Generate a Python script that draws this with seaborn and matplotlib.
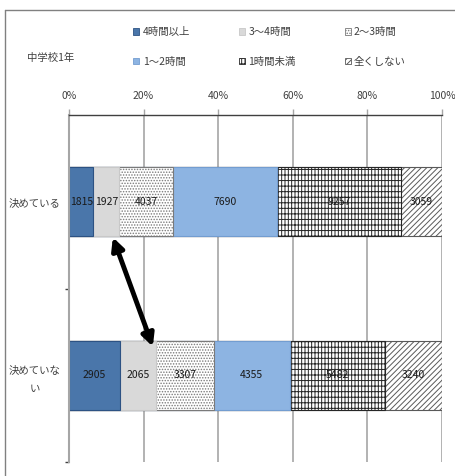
import matplotlib
matplotlib.use('Agg')
import numpy as np
import pandas as pd
import seaborn as sns
import matplotlib.pyplot as plt
import matplotlib.patches as mpatches
from matplotlib.lines import Line2D
from matplotlib.ticker import FuncFormatter

# data
groups = ["決めている", "決めていない"]
group_ticklabels = ["決めている", "決めていな\nい"]
series_names = ["4時間以上", "3～4時間", "2～3時間", "1～2時間", "1時間未満", "全くしない"]
h4_more = [1815, 2905]
h3_4 = [1927, 2065]
h2_3 = [4037, 3307]
h1_2 = [7690, 4355]
h_less1 = [9257, 5482]
h_none = [3059, 3240]
title = "中学校1年"

counts = np.array([h4_more, h3_4, h2_3, h1_2, h_less1, h_none], dtype=float)
df = pd.DataFrame(counts.T, columns=series_names)
df["group"] = groups
pct = df[series_names].div(df[series_names].sum(axis=1), axis=0) * 100
cum = pct.cumsum(axis=1)
for c in series_names:
    df["cum_" + c] = cum[c]

# segment styles: facecolor, edgecolor, hatch
styles = {
    "4時間以上": ("#4a76aa", "#2d5283", None),
    "3～4時間": ("#d9d9d9", "#c8c8c8", None),
    "2～3時間": ("#ffffff", "#7a7a7a", "......"),
    "1～2時間": ("#8db4e2", "#739dd0", None),
    "1時間未満": ("#ffffff", "#262626", "---|||||"),
    "全くしない": ("#ffffff", "#595959", "//////"),
}

sns.set_style("white")
plt.rcParams['font.family'] = ['Noto Sans CJK JP', 'DejaVu Sans']
plt.rcParams['hatch.linewidth'] = 0.7

fig = plt.figure(figsize=(4.55, 4.76), dpi=100)
ax = fig.add_axes([69 / 455, 1 - 462 / 476, 373 / 455, 347 / 476])

# stacked bars: draw cumulative totals from the right-most segment back
for name in reversed(series_names):
    fc, ec, hatch = styles[name]
    sns.barplot(data=df, x="cum_" + name, y="group", order=groups, orient="h",
                color=fc, saturation=1, errorbar=None, width=0.4,
                edgecolor=ec, linewidth=0.8, hatch=hatch, ax=ax)

# value labels in the middle of each segment
for i in range(len(groups)):
    left = 0
    for name in series_names:
        right = cum.loc[i, name]
        ax.text((left + right) / 2, i, f"{int(df.loc[i, name])}", ha="center", va="center",
                fontsize=7.5, color="#1a1a1a")
        left = right

# arrow between the two rows
x_top = cum.loc[0, "3～4時間"] - 1.7
x_bot = cum.loc[1, "3～4時間"] - 0.8
ax.annotate("", xy=(x_top, 0.205), xytext=(x_bot, 0.835),
            arrowprops=dict(arrowstyle="<|-|>", color="black", lw=3.5,
                            mutation_scale=18, shrinkA=0, shrinkB=0))

ax.set_xlim(0, 100)
ax.set_ylim(1.5, -0.5)
ax.set_xlabel("")
ax.set_ylabel("")
ax.xaxis.tick_top()
ax.set_xticks(np.arange(0, 101, 20))
ax.xaxis.set_major_formatter(FuncFormatter(lambda v, p: f"{int(v)}%"))
ax.tick_params(axis="x", length=4, width=1, color="#a6a6a6", labelsize=7.5,
               labelcolor="#404040", pad=6)
ax.set_yticks(range(len(groups)))
ax.set_yticklabels(group_ticklabels, linespacing=2.0, multialignment="center")
ax.set_yticks([0.5, 1.5], minor=True)
ax.tick_params(axis="y", which="major", length=0, labelsize=7.5, labelcolor="#404040", pad=6)
ax.tick_params(axis="y", which="minor", length=3, width=1, color="#404040", left=True)
ax.grid(axis="x", color="#a6a6a6", lw=1.2)
ax.set_axisbelow(True)
for s in ["right", "bottom"]:
    ax.spines[s].set_visible(False)
ax.spines["left"].set_color("#a6a6a6")
ax.spines["left"].set_linewidth(1.5)
ax.spines["top"].set_color("#404040")
ax.spines["top"].set_linewidth(1)

# legend
handles = []
for name in series_names:
    fc, ec, hatch = styles[name]
    handles.append(mpatches.Patch(facecolor=fc, edgecolor=ec, hatch=hatch, lw=0.6, label=name))
order = [0, 3, 1, 4, 2, 5]
fig.legend([handles[k] for k in order], [series_names[k] for k in order],
           ncol=3, loc="upper left", bbox_to_anchor=(128 / 455, 1 - 22 / 476),
           frameon=False, fontsize=7.5, handlelength=0.6, handleheight=0.6,
           handletextpad=0.3, columnspacing=4.7, labelspacing=1.85,
           labelcolor="#404040", borderpad=0)

fig.text(27 / 455, 1 - 58 / 476, title, ha="left", va="center", fontsize=7.5, color="#404040")

# outer chart frame
fig.add_artist(Line2D([5 / 455, 1], [1 - 10 / 476] * 2, color="#808080", lw=1, transform=fig.transFigure))
fig.add_artist(Line2D([5 / 455] * 2, [0, 1 - 10 / 476], color="#808080", lw=1, transform=fig.transFigure))

fig.savefig("out.png", dpi=100, facecolor="white")
